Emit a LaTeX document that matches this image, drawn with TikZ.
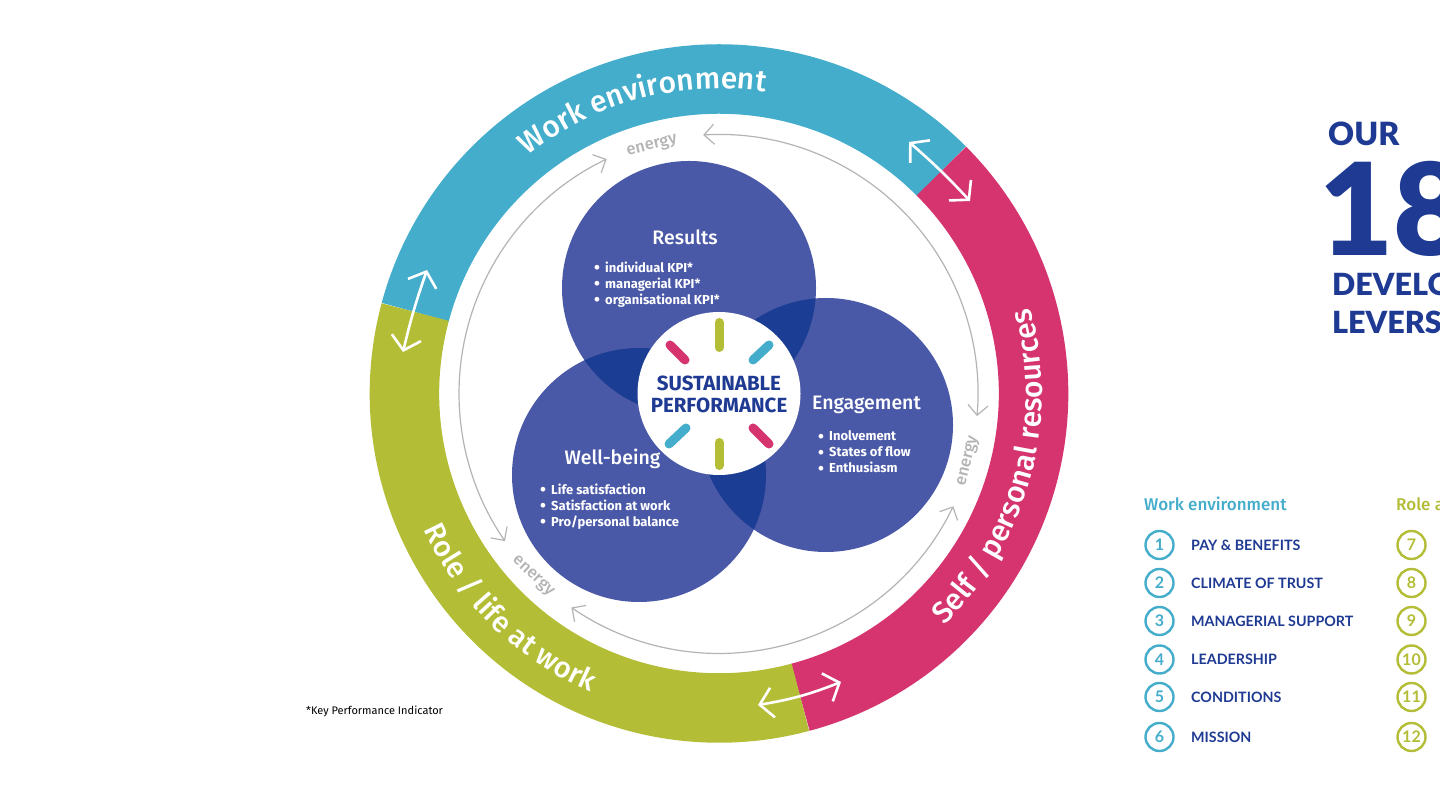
\documentclass[tikz,border=0pt]{standalone}
\usepackage{fontspec}
\setmainfont{Fira Sans}
\newfontfamily\latofont{Lato}
\newfontfamily\latoblack{Lato Black}
\newfontfamily\firamed{Fira Sans Medium}
\usetikzlibrary{arrows.meta,decorations.text}
\definecolor{wblue}{HTML}{43ADCB}
\definecolor{spink}{HTML}{D6346F}
\definecolor{rgreen}{HTML}{B3BD35}
\definecolor{cblue}{HTML}{4A59A7}
\definecolor{oblue}{HTML}{1C3D94}
\definecolor{navy}{HTML}{1F3A93}
\definecolor{egray}{HTML}{B4B4B4}
\newcommand{\kpibul}{\makebox[11pt][l]{\fontsize{17}{16}\selectfont\raisebox{-1.2pt}{\textbullet}}}
\tikzset{
  x=1pt,y=1pt,
  sector/.style={line width=69.5pt},
  venn/.style={fill=cblue},
  overlap/.style={fill=oblue},
  title/.style={text=white,font=\firamed\fontsize{19.5}{20}\selectfont,inner sep=0},
  items/.style={text=white,font=\bfseries\fontsize{13}{16}\selectfont,align=left,anchor=west,inner sep=0},
  pill/.style={line width=9pt,line cap=round},
  energyarc/.style={draw=egray,line width=1.2pt,{Straight Barb[length=10pt,width=20pt]}-{Straight Barb[length=10pt,width=20pt]}},
  energytext/.style={text=egray,font=\firamed\fontsize{16.5}{16}\selectfont,inner sep=0},
  whitearrow/.style={draw=white,line width=2.6pt,{Straight Barb[length=13pt,width=30pt]}-{Straight Barb[length=13pt,width=30pt]}},
  numring/.style={circle,draw,line width=2.4pt,minimum size=28pt,inner sep=0,font=\latofont\bfseries\fontsize{16}{16}\selectfont},
  lever/.style={text=navy,anchor=west,inner sep=0,font=\latofont\bfseries\fontsize{14.3}{15}\selectfont},
  heading/.style={anchor=west,inner sep=0,font=\firamed\fontsize{17}{18}\selectfont},
  big/.style={text=navy,anchor=west,inner sep=0}
}
\begin{document}
\begin{tikzpicture}
\useasboundingbox (0,0) rectangle (1440,800);
\clip (0,0) rectangle (1440,800);
\fill[white] (0,0) rectangle (1440,800);
\coordinate (c) at (719,406.5);

% outer ring
\draw[sector,wblue] ([shift=(45:314.5)]c) arc[start angle=45,end angle=165,radius=314.5];
\draw[sector,spink] ([shift=(-75:314.5)]c) arc[start angle=-75,end angle=45,radius=314.5];
\draw[sector,rgreen] ([shift=(165:314.5)]c) arc[start angle=165,end angle=285,radius=314.5];

% ring labels
\path[decorate,decoration={text along path,text align={align=center},
  text={|\firamed\fontsize{30}{32}\selectfont\color{white}|Work environment}}]
  ([shift=(130:305)]c) arc[start angle=130,end angle=80,radius=305];
\path[decorate,decoration={text along path,text align={align=center},
  text={|\firamed\fontsize{30}{32}\selectfont\color{white}|Self / personal resources}}]
  ([shift=(-46.7:323)]c) arc[start angle=-46.7,end angle=16.3,radius=323];
\path[decorate,decoration={text along path,text align={align=center},
  text={|\firamed\fontsize{29}{31}\selectfont\color{white}|Role / life at work}}]
  ([shift=(204:325)]c) arc[start angle=204,end angle=247.5,radius=325];

% white double arrows across sector borders
\coordinate (a1s) at (909,658); \coordinate (a1e) at (970,599);
\coordinate (a2s) at (427,530); \coordinate (a2e) at (403,448);
\coordinate (a3s) at (758,95);  \coordinate (a3e) at (841,118);
\draw[whitearrow] (a1s) to[bend left=3] (a1e);
\draw[whitearrow] (a2s) to[bend right=3] (a2e);
\draw[whitearrow] (a3s) to[bend right=6] (a3e);

% energy arcs
\draw[energyarc] ([shift=(115.6:260)]c) arc[start angle=115.6,end angle=214.6,radius=260];
\draw[energyarc] ([shift=(93.5:259)]c) arc[start angle=93.5,end angle=-5,radius=259];
\draw[energyarc] ([shift=(-25.7:260)]c) arc[start angle=-25.7,end angle=-124.6,radius=260];
\node[energytext,rotate=14] (e1) at (652,654) {energy};
\node[energytext,rotate=76] (e2) at (968,339) {energy};
\node[energytext,rotate=-43] (e3) at (533,224) {energy};

% venn circles
\fill[venn] (689,512) circle[radius=127];
\fill[venn] (826,375) circle[radius=127];
\fill[venn] (639,325) circle[radius=127];
\begin{scope}\clip (689,512) circle[radius=127]; \fill[overlap] (826,375) circle[radius=127]; \end{scope}
\begin{scope}\clip (689,512) circle[radius=127]; \fill[overlap] (639,325) circle[radius=127]; \end{scope}
\begin{scope}\clip (826,375) circle[radius=127]; \fill[overlap] (639,325) circle[radius=127]; \end{scope}

% centre
\fill[white] (c) circle[radius=81.5];
\draw[pill,rgreen] (719,477.5) -- (719,452.5);
\draw[pill,rgreen] (719,357.5) -- (719,334.5);
\draw[pill,spink] (670,455) -- (685,440);
\draw[pill,spink] (753,372) -- (769,356);
\draw[pill,wblue] (769,455) -- (753,440);
\draw[pill,wblue] (669,356) -- (686,372);
\node[text=navy,inner sep=0,align=center,font=\bfseries\fontsize{20.5}{22}\selectfont] (sp) at (719,405.5) {SUSTAINABLE\\PERFORMANCE};

% circle texts
\node[title] (t1) at (685,563) {Results};
\node[items] (l1) at (594,515.5) {\kpibul individual KPI*\\\kpibul managerial KPI*\\\kpibul organisational KPI*};
\node[title] (t2) at (866.5,395) {Engagement};
\node[items] (l2) at (818,347.5) {\kpibul Inolvement\\\kpibul States of flow\\\kpibul Enthusiasm};
\node[title] (t3) at (612.5,341) {Well-being};
\node[items] (l3) at (540,293.5) {\kpibul Life satisfaction\\\kpibul Satisfaction at work\\\kpibul Pro/personal balance};

\node[anchor=west,inner sep=0,font=\fontsize{11}{11}\selectfont] (fn) at (306,88.5) {*Key Performance Indicator};

% headline
\node[big,font=\latoblack\fontsize{32}{32}\selectfont] (our) at (1328,666) {OUR};
\node[big,font=\latoblack\fontsize{128}{128}\selectfont] (num) at (1319,591) {18};
\node[big,font=\latoblack\fontsize{30.5}{31}\selectfont] (dev) at (1332,516) {DEVELO};
\node[big,font=\latoblack\fontsize{30.5}{31}\selectfont] (lev) at (1332,478) {LEVERS};

% legend
\node[heading,text=wblue] (hw) at (1144,296) {Work environment};
\node[heading,text=rgreen] (hr) at (1396,296) {Role a};
\foreach \n/\y/\lab in {1/255/PAY \& BENEFITS,2/217/CLIMATE OF TRUST,3/179/MANAGERIAL SUPPORT,4/140.5/LEADERSHIP,5/103/CONDITIONS,6/63/MISSION}{
  \node[numring,draw=wblue,text=wblue] (w\n) at (1159.5,\y) {\n};
  \node[lever] (wl\n) at (1191,\y) {\lab};
}
\foreach \n/\y in {7/255,8/217,9/179,10/140.5,11/103,12/63}{
  \node[numring,draw=rgreen,text=rgreen] (r\n) at (1411.5,\y) {\n};
}
\end{tikzpicture}
\end{document}
